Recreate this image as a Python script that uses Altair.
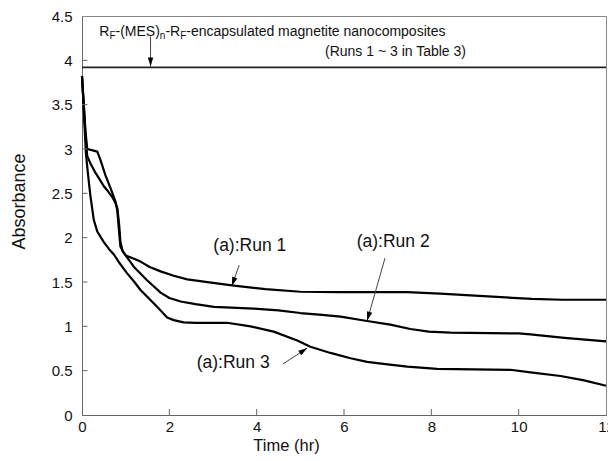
import math
import altair as alt
import pandas as pd

# ---------------- data ----------------
run1_t = [0, 0.04, 0.08, 0.12, 0.2, 0.35, 0.42, 0.54, 0.62, 0.69, 0.77, 0.81, 0.84, 0.88, 0.94, 1.0,
          1.15, 1.34, 1.55, 1.8, 2.1, 2.41, 3.0, 3.48, 4.2, 5.0, 5.9, 7.45, 8.2, 9.2, 10.3, 11.0, 12.0]
run1_a = [3.82, 3.5, 3.2, 3.0, 2.99, 2.97, 2.88, 2.70, 2.60, 2.51, 2.40, 2.30, 2.12, 1.90, 1.84, 1.80,
          1.77, 1.73, 1.67, 1.62, 1.57, 1.53, 1.49, 1.46, 1.42, 1.39, 1.385, 1.385, 1.37, 1.34, 1.31, 1.30, 1.30]

run2_t = [0, 0.04, 0.08, 0.12, 0.2, 0.31, 0.4, 0.5, 0.6, 0.69, 0.76, 0.81, 0.85, 0.88, 0.93, 1.0,
          1.19, 1.49, 1.8, 2.0, 2.26, 2.6, 3.02, 3.93, 4.5, 5.0, 5.5, 5.92, 6.53, 7.06, 7.52, 7.94,
          8.44, 10.0, 10.27, 11.05, 12.0]
run2_a = [3.82, 3.5, 3.15, 2.92, 2.83, 2.73, 2.66, 2.58, 2.52, 2.46, 2.40, 2.33, 2.15, 1.95, 1.85, 1.80,
          1.67, 1.52, 1.38, 1.32, 1.28, 1.25, 1.22, 1.20, 1.18, 1.15, 1.13, 1.11, 1.06, 1.02, 0.97, 0.94,
          0.93, 0.92, 0.91, 0.87, 0.83]

run3_t = [0, 0.03, 0.06, 0.09, 0.13, 0.19, 0.27, 0.35, 0.5, 0.62, 0.73, 0.85, 1.03, 1.2, 1.34, 1.5,
          1.72, 1.95, 2.1, 2.33, 2.6, 3.32, 3.86, 4.39, 4.93, 5.23, 5.69, 6.15, 6.53, 7.0, 7.45, 8.13,
          9.81, 10.27, 10.96, 11.5, 12.0]
run3_a = [3.82, 3.55, 3.25, 2.95, 2.75, 2.48, 2.20, 2.07, 1.95, 1.87, 1.81, 1.72, 1.60, 1.50, 1.41, 1.33,
          1.22, 1.10, 1.07, 1.045, 1.04, 1.04, 1.00, 0.94, 0.84, 0.77, 0.70, 0.64, 0.60, 0.57, 0.545, 0.52,
          0.51, 0.48, 0.44, 0.39, 0.33]

ref_level = 3.92            # R_F-(MES)n-R_F-encapsulated magnetite nanocomposites

x_ticks = [0, 2, 4, 6, 8, 10, 12]
y_ticks = [0, 0.5, 1, 1.5, 2, 2.5, 3, 3.5, 4, 4.5]

run_labels = ["(a):Run 1", "(a):Run 2", "(a):Run 3"]
label_t = [3.007, 6.29, 2.627]
label_a = [1.853, 1.898, 0.534]

# arrows: start (t, A) -> tip (t, A)
arrow_t1 = [1.57, 3.60, 6.94, 4.60]
arrow_a1 = [4.27, 1.69, 1.77, 0.575]
arrow_t2 = [1.57, 3.43, 6.53, 5.16]
arrow_a2 = [3.93, 1.455, 1.064, 0.755]

note_pieces = ["R", "F", "-(MES)", "n", "-R", "F", "-encapsulated magnetite nanocomposites"]
note_is_sub = [False, True, False, True, False, True, False]
note_line2 = "(Runs 1 ~ 3 in Table 3)"

# ---------------- layout ----------------
W, H = 524, 399
X_MAX, Y_MAX = 12, 4.5
PX_X = W / X_MAX
PX_Y = H / Y_MAX
FONT = "Liberation Sans"

x_scale = alt.Scale(domain=[0, X_MAX], nice=False, zero=False)
y_scale = alt.Scale(domain=[0, Y_MAX], nice=False, zero=False)

x_axis = alt.Axis(values=x_ticks, title="Time (hr)", ticks=False, grid=False, labelFlush=False,
                  labelFont=FONT, labelFontSize=15, labelPadding=4, labelColor="#111",
                  titleFont=FONT, titleFontSize=16.5, titleFontWeight="normal", titleColor="#111",
                  titleX=204, titleY=35, titleBaseline="alphabetic", titleAlign="center",
                  domainColor="#666")
y_axis = alt.Axis(values=y_ticks, format="~g", title="Absorbance", ticks=False, grid=False,
                  labelFlush=False, labelFont=FONT, labelFontSize=15, labelPadding=10, labelColor="#111",
                  titleFont=FONT, titleFontSize=18, titleFontWeight="normal", titleColor="#111",
                  titleX=-63, titleY=185, titleBaseline="middle", titleAlign="center", titleAngle=270,
                  domainColor="#666")

def X(field):
    return alt.X(field, scale=x_scale, axis=x_axis)

def Y(field):
    return alt.Y(field, scale=y_scale, axis=y_axis)

rows = []
for name, ts, avals in [("Run 1", run1_t, run1_a), ("Run 2", run2_t, run2_a), ("Run 3", run3_t, run3_a)]:
    for t, a in zip(ts, avals):
        rows.append({"run": name, "t": t, "A": a})
curves = pd.DataFrame(rows)

lines = alt.Chart(curves).mark_line(color="black", strokeWidth=2.2, strokeJoin="round").encode(
    x=X("t:Q"), y=Y("A:Q"), detail="run:N", order="t:Q")

ref_rule = alt.Chart(pd.DataFrame({"A": [ref_level]})).mark_rule(
    color="#222", strokeWidth=1.8).encode(y=Y("A:Q"))

# inward ticks
ytick = alt.Chart(pd.DataFrame({"A": y_ticks[1:-1]})).mark_rule(color="#666", strokeWidth=1).encode(
    y=Y("A:Q"), x=alt.value(0), x2=alt.value(5.5))
xtick = alt.Chart(pd.DataFrame({"t": x_ticks[1:-1]})).mark_rule(color="#666", strokeWidth=1).encode(
    x=X("t:Q"), y=alt.value(H), y2=alt.value(H - 6))

# arrows
arr = pd.DataFrame({"t1": arrow_t1, "a1": arrow_a1, "t2": arrow_t2, "a2": arrow_a2})
HEAD_R = 4.5
ang, hc_t, hc_a = [], [], []
for t1, a1, t2, a2 in zip(arrow_t1, arrow_a1, arrow_t2, arrow_a2):
    dx = (t2 - t1) * PX_X
    dy = -(a2 - a1) * PX_Y
    L = math.hypot(dx, dy)
    ux, uy = dx / L, dy / L
    ang.append(math.degrees(math.atan2(dx, -dy)) % 360)
    hc_t.append(t2 - ux * HEAD_R / PX_X)
    hc_a.append(a2 + uy * HEAD_R / PX_Y)
arr["ang"] = ang
arr["ht"] = hc_t
arr["ha"] = hc_a

arrow_lines = alt.Chart(arr).mark_rule(color="#444", strokeWidth=1).encode(
    x=X("t1:Q"), y=Y("a1:Q"), x2="t2:Q", y2="a2:Q")
arrow_heads = alt.Chart(arr).mark_point(
    shape="M0,-1L0.6,1L-0.6,1Z", filled=True, size=(2 * HEAD_R) ** 2, color="black",
    opacity=1, strokeWidth=0).encode(
    x=X("ht:Q"), y=Y("ha:Q"), angle=alt.Angle("ang:Q", scale=None))

labels = alt.Chart(pd.DataFrame({"t": label_t, "A": label_a, "txt": run_labels})).mark_text(
    align="left", baseline="alphabetic", font=FONT, fontSize=17.5, color="#111").encode(
    x=X("t:Q"), y=Y("A:Q"), text="txt:N")

# top note with subscripts (Arial / Liberation Sans advance widths, per 1000 em)
ADV = {"R": 722, "F": 611, "-": 333, "(": 333, ")": 333, "M": 833, "E": 667, "S": 667, "n": 556}
MAIN_FS, SUB_FS = 14, 10
note_t0, note_a0 = 0.396, 4.28
note_layers = []
off = 0.0
for piece, sub in zip(note_pieces, note_is_sub):
    fs = SUB_FS if sub else MAIN_FS
    note_layers.append(
        alt.Chart(pd.DataFrame({"t": [note_t0], "A": [note_a0], "txt": [piece]})).mark_text(
            align="left", baseline="alphabetic", font=FONT, fontSize=fs, color="#111",
            dx=off, dy=3 if sub else 0).encode(x=X("t:Q"), y=Y("A:Q"), text="txt:N"))
    off += sum(ADV.get(c, 556) for c in piece) * fs / 1000.0

note2 = alt.Chart(pd.DataFrame({"t": [5.565], "A": [4.049], "txt": [note_line2]})).mark_text(
    align="left", baseline="alphabetic", font=FONT, fontSize=14, color="#111").encode(
    x=X("t:Q"), y=Y("A:Q"), text="txt:N")

chart = alt.layer(lines, ref_rule, ytick, xtick, arrow_lines, arrow_heads, labels, note2, *note_layers).properties(
    width=W, height=H,
    autosize=alt.AutoSizeParams(type="none"),
    padding={"left": 82, "top": 16, "right": 2, "bottom": 46},
    background="white",
).configure_view(stroke="#888", strokeWidth=1)

chart.save("out.html", embed_options={"renderer": "svg", "actions": False})
